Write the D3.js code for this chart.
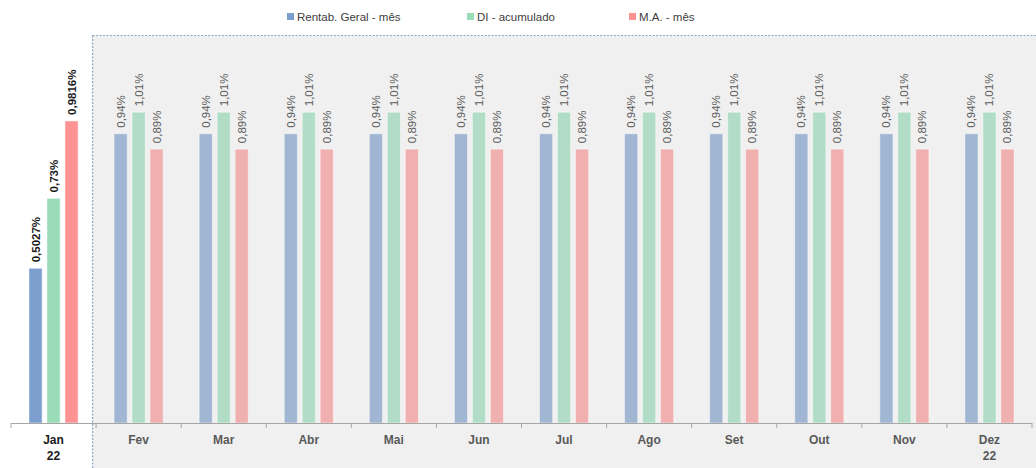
<!DOCTYPE html>
<html>
<head>
<meta charset="utf-8">
<script src="https://cdn.jsdelivr.net/npm/d3@7/dist/d3.min.js"></script>
<style>
  html, body { margin: 0; padding: 0; background: #ffffff; }
  svg { display: block; font-family: "Liberation Sans Narrow", "Liberation Sans", Arial, sans-serif; }
</style>
</head>
<body>
<svg id="chart" width="1036" height="468"></svg>
<script>
// Monthly categories (Jan is the realised month, the rest are projections)
const months = ["Jan", "Fev", "Mar", "Abr", "Mai", "Jun", "Jul", "Ago", "Set", "Out", "Nov", "Dez"];
const yearLabels = ["22", "", "", "", "", "", "", "", "", "", "", "22"];
const seriesNames = ["Rentab. Geral - mês", "DI - acumulado", "M.A. - mês"];
const rentabGeral = [0.5027, 0.94, 0.94, 0.94, 0.94, 0.94, 0.94, 0.94, 0.94, 0.94, 0.94, 0.94];
const diAcumulado = [0.73, 1.01, 1.01, 1.01, 1.01, 1.01, 1.01, 1.01, 1.01, 1.01, 1.01, 1.01];
const maMes = [0.9816, 0.89, 0.89, 0.89, 0.89, 0.89, 0.89, 0.89, 0.89, 0.89, 0.89, 0.89];
const valueLabels = [
  ["0,5027%", "0,94%", "0,94%", "0,94%", "0,94%", "0,94%", "0,94%", "0,94%", "0,94%", "0,94%", "0,94%", "0,94%"],
  ["0,73%", "1,01%", "1,01%", "1,01%", "1,01%", "1,01%", "1,01%", "1,01%", "1,01%", "1,01%", "1,01%", "1,01%"],
  ["0,9816%", "0,89%", "0,89%", "0,89%", "0,89%", "0,89%", "0,89%", "0,89%", "0,89%", "0,89%", "0,89%", "0,89%"]
];

const series = [rentabGeral, diAcumulado, maMes];
const solidColors = ["#7c9fcf", "#9adbb8", "#ff9393"];
const softColors = ["#a0b6d2", "#b1ddc6", "#f0b0b0"];

const svg = d3.select("#chart");
const W = 1036, H = 468;
const baseY = 423;
const left = 11, right = 1032;

const x = d3.scaleBand().domain(months).range([left, right]).paddingInner(0).paddingOuter(0);
const xSub = d3.scaleBand().domain(d3.range(3)).range([0, x.bandwidth()]).paddingInner(0.27).paddingOuter(1.0);
const y = d3.scaleLinear().domain([0, 1.2]).range([baseY, baseY - 1.2 * 307.7]);

// Shaded projection area with dashed border
const projX = x("Fev") - 3.5;
svg.append("rect")
  .attr("x", projX).attr("y", 35.5)
  .attr("width", W - projX).attr("height", H - 35.5)
  .attr("fill", "#f0f0f0");
svg.append("line")
  .attr("x1", projX).attr("x2", W).attr("y1", 35.5).attr("y2", 35.5)
  .attr("stroke", "#8da3c4").attr("stroke-width", 1.2).attr("stroke-dasharray", "2,1.5");
svg.append("line")
  .attr("x1", projX).attr("x2", projX).attr("y1", 35.5).attr("y2", H)
  .attr("stroke", "#8da3c4").attr("stroke-width", 1.2).attr("stroke-dasharray", "2,1.5");

// Bars
const bars = svg.append("g");
series.forEach((vals, s) => {
  bars.selectAll(null)
    .data(vals)
    .enter()
    .append("rect")
    .attr("x", (d, i) => x(months[i]) + xSub(s))
    .attr("y", d => y(d))
    .attr("width", xSub.bandwidth())
    .attr("height", d => baseY - y(d))
    .attr("fill", (d, i) => i === 0 ? solidColors[s] : softColors[s])
    .attr("stroke", "rgba(255,255,255,0.45)")
    .attr("stroke-width", 1);
});

// Value labels, rotated
const labels = svg.append("g");
series.forEach((vals, s) => {
  labels.selectAll(null)
    .data(vals)
    .enter()
    .append("text")
    .attr("transform", (d, i) => {
      const cx = x(months[i]) + xSub(s) + xSub.bandwidth() / 2 + 4;
      return `translate(${cx},${y(d) - 6}) rotate(-90)`;
    })
    .attr("text-anchor", "start")
    .attr("font-size", "11.5px")
    .attr("font-weight", (d, i) => i === 0 ? "bold" : "normal")
    .attr("fill", (d, i) => i === 0 ? "#1a1a1a" : "#595959")
    .text((d, i) => valueLabels[s][i]);
});

// Category axis
const axis = svg.append("g");
axis.append("line")
  .attr("x1", left).attr("x2", right).attr("y1", baseY + 0.5).attr("y2", baseY + 0.5)
  .attr("stroke", "#a6a6a6").attr("stroke-width", 1);
const tickXs = months.map(m => x(m)).concat([right]);
axis.selectAll(null)
  .data(tickXs)
  .enter()
  .append("line")
  .attr("x1", d => d).attr("x2", d => d)
  .attr("y1", baseY).attr("y2", baseY + 5)
  .attr("stroke", "#a6a6a6").attr("stroke-width", 1);

axis.selectAll(null)
  .data(months)
  .enter()
  .append("text")
  .attr("x", d => x(d) + x.bandwidth() / 2)
  .attr("y", 444)
  .attr("text-anchor", "middle")
  .attr("font-size", "12px")
  .attr("font-weight", "bold")
  .attr("fill", (d, i) => i === 0 ? "#1a1a1a" : "#595959")
  .text(d => d);

axis.selectAll(null)
  .data(months)
  .enter()
  .append("text")
  .attr("x", d => x(d) + x.bandwidth() / 2)
  .attr("y", 460)
  .attr("text-anchor", "middle")
  .attr("font-size", "12px")
  .attr("font-weight", "bold")
  .attr("fill", (d, i) => i === 0 ? "#1a1a1a" : "#595959")
  .text((d, i) => yearLabels[i]);

// Legend
const legendX = [287, 467, 629];
const legend = svg.append("g");
seriesNames.forEach((name, s) => {
  legend.append("rect")
    .attr("x", legendX[s]).attr("y", 13)
    .attr("width", 7).attr("height", 7)
    .attr("fill", solidColors[s]);
  legend.append("text")
    .attr("x", legendX[s] + 10).attr("y", 20.5)
    .attr("font-size", "11.5px")
    .attr("fill", "#404040")
    .text(name);
});
</script>
</body>
</html>
